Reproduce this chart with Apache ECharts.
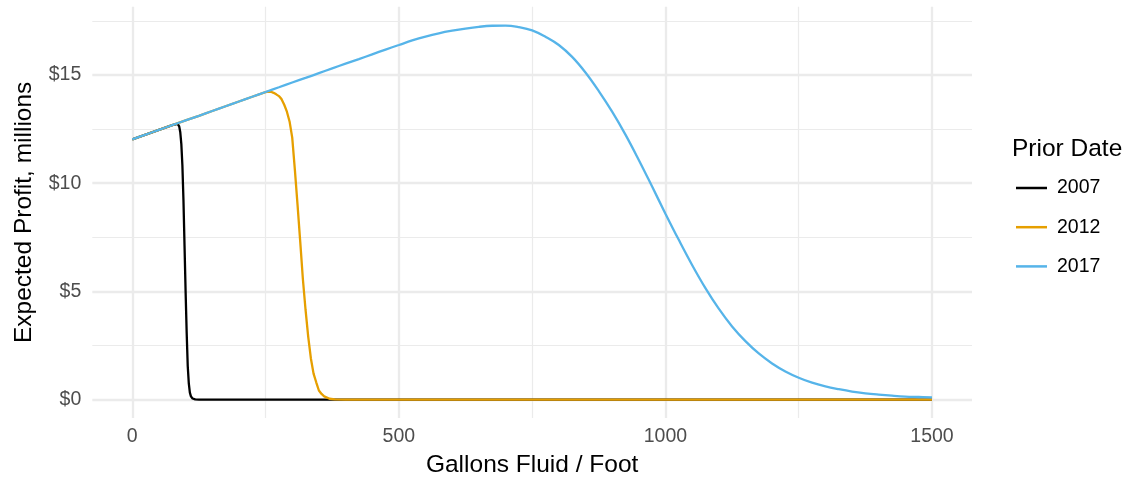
<!DOCTYPE html>
<html>
<head>
<meta charset="utf-8">
<script src="https://cdn.jsdelivr.net/npm/echarts@6/dist/echarts.min.js"></script>
<style>
html,body{margin:0;padding:0;background:#fff;}
#chart{width:1133px;height:482px;}
</style>
</head>
<body>
<div id="chart"></div>
<script>
// values (gallons fluid / foot -> expected profit, $ millions)
var gallons2007 = [0, 25, 50, 75, 85, 88, 90, 92, 94, 96, 98, 100, 102, 104, 106, 108, 110, 113, 118, 125, 500, 1000, 1500];
var profit2007  = [12.02, 12.24, 12.46, 12.68, 12.74, 12.62, 12.35, 11.8, 10.8, 9.2, 7.1, 5.0, 3.1, 1.55, 0.75, 0.32, 0.15, 0.05, 0.01, 0, 0, 0, 0];

var gallons2012 = [0, 25, 50, 75, 100, 125, 150, 175, 200, 225, 250, 255, 260, 265, 270, 275, 280, 285, 290, 295, 300, 305, 310, 315, 320, 325, 330, 335, 340, 345, 350, 355, 360, 370, 380, 400, 500, 1000, 1500];
var profit2012  = [12.02, 12.24, 12.46, 12.68, 12.90, 13.11, 13.33, 13.55, 13.77, 13.99, 14.20, 14.23, 14.22, 14.17, 14.10, 14.02, 13.88, 13.62, 13.30, 12.85, 12.10, 10.60, 8.98, 7.30, 5.56, 4.14, 2.90, 1.90, 1.20, 0.80, 0.42, 0.26, 0.15, 0.04, 0.01, 0, 0, 0, 0];

var gallons2017 = [0, 25, 50, 75, 100, 125, 150, 175, 200, 225, 250, 275, 300, 325, 350, 375, 400, 425, 450, 475, 500, 525, 550, 575, 600, 625, 650, 675, 700, 725, 750, 775, 800, 825, 850, 875, 900, 925, 950, 975, 1000, 1025, 1050, 1075, 1100, 1125, 1150, 1175, 1200, 1225, 1250, 1275, 1300, 1325, 1350, 1375, 1400, 1425, 1450, 1475, 1500];
var profit2017  = [12.02, 12.24, 12.46, 12.68, 12.90, 13.11, 13.33, 13.55, 13.77, 13.99, 14.21, 14.43, 14.65, 14.86, 15.08, 15.30, 15.52, 15.73, 15.95, 16.17, 16.38, 16.59, 16.77, 16.92, 17.04, 17.14, 17.22, 17.27, 17.28, 17.21, 17.06, 16.76, 16.38, 15.83, 15.11, 14.25, 13.30, 12.24, 11.07, 9.84, 8.59, 7.38, 6.22, 5.15, 4.20, 3.38, 2.70, 2.13, 1.67, 1.30, 1.01, 0.78, 0.61, 0.48, 0.37, 0.29, 0.23, 0.18, 0.14, 0.12, 0.10];

var seriesNames = ['2007', '2012', '2017'];
var seriesColors = ['#000000', '#E69F00', '#56B4E9'];

var xMajor = [0, 500, 1000, 1500];
var xMinor = [250, 750, 1250];
var yMajor = [0, 5, 10, 15];
var yMinor = [2.5, 7.5, 12.5, 17.5];

var FONT = 'Liberation Sans, Arial, Helvetica, sans-serif';
var GRID = '#EBEBEB';

function zip(xs, ys) {
	var out = [];
	for (var i = 0; i < xs.length; i++) {
		out.push([xs[i], ys[i]]);
	}
	return out;
}

var lines = [zip(gallons2007, profit2007), zip(gallons2012, profit2012), zip(gallons2017, profit2017)];

var myChart = echarts.init(document.getElementById('chart'));

var series = [];
for (var i = 0; i < lines.length; i++) {
	series.push({
		name: seriesNames[i],
		type: 'line',
		xAxisIndex: 0,
		yAxisIndex: 0,
		data: lines[i],
		symbol: 'none',
		showSymbol: false,
		smooth: i == 2 ? 0.4 : false,
		color: seriesColors[i],
		lineStyle: { width: 2.3, color: seriesColors[i] },
		z: 10 + i
	});
}

var option = {
	animation: false,
	backgroundColor: '#ffffff',
	textStyle: { fontFamily: FONT },
	title: {
		text: 'Prior Date',
		left: 1012,
		top: 137,
		padding: 0,
		textStyle: { fontFamily: FONT, fontSize: 24.5, fontWeight: 'normal', color: '#000000' }
	},
	legend: {
		orient: 'vertical',
		left: 1016,
		top: 178,
		padding: 0,
		itemWidth: 31,
		itemHeight: 2.5,
		itemGap: 19.2,
		icon: 'rect',
		data: seriesNames,
		textStyle: { fontFamily: FONT, fontSize: 19.5, color: '#000000', lineHeight: 20, padding: [0, 0, 0, 5] }
	},
	grid: {
		left: 92.3,
		right: 161,
		top: 6.7,
		bottom: 64,
		containLabel: false,
		outerBoundsMode: 'none'
	},
	xAxis: [
		{
			type: 'value',
			min: -75,
			max: 1575,
			axisLine: { show: false },
			axisTick: { show: false, customValues: xMajor },
			axisLabel: {
				customValues: xMajor,
				fontFamily: FONT,
				fontSize: 19.5,
				color: '#4D4D4D',
				margin: 9,
				formatter: function (v) { return String(v); }
			},
			splitLine: { show: true, lineStyle: { color: GRID, width: 2.3 } },
			name: 'Gallons Fluid / Foot',
			nameLocation: 'middle',
			nameGap: 35,
			nameTextStyle: { fontFamily: FONT, fontSize: 24.5, color: '#000000' }
		},
		{
			type: 'value',
			position: 'top',
			min: -75,
			max: 1575,
			axisLine: { show: false },
			axisTick: { show: false, customValues: xMinor },
			axisLabel: { show: false, customValues: xMinor },
			splitLine: { show: true, lineStyle: { color: GRID, width: 1.2 } }
		}
	],
	yAxis: [
		{
			type: 'value',
			min: -0.85,
			max: 18.15,
			axisLine: { show: false },
			axisTick: { show: false, customValues: yMajor },
			axisLabel: {
				customValues: yMajor,
				fontFamily: FONT,
				fontSize: 19.5,
				color: '#4D4D4D',
				margin: 11,
				formatter: function (v) { return '$' + v; }
			},
			splitLine: { show: true, lineStyle: { color: GRID, width: 2.3 } },
			name: 'Expected Profit, millions',
			nameLocation: 'middle',
			nameRotate: 90,
			nameGap: 56,
			nameTextStyle: { fontFamily: FONT, fontSize: 24.5, color: '#000000' }
		},
		{
			type: 'value',
			position: 'right',
			min: -0.85,
			max: 18.15,
			axisLine: { show: false },
			axisTick: { show: false, customValues: yMinor },
			axisLabel: { show: false, customValues: yMinor },
			splitLine: { show: true, lineStyle: { color: GRID, width: 1.2 } }
		}
	],
	series: series
};

myChart.setOption(option, true);
</script>
</body>
</html>
